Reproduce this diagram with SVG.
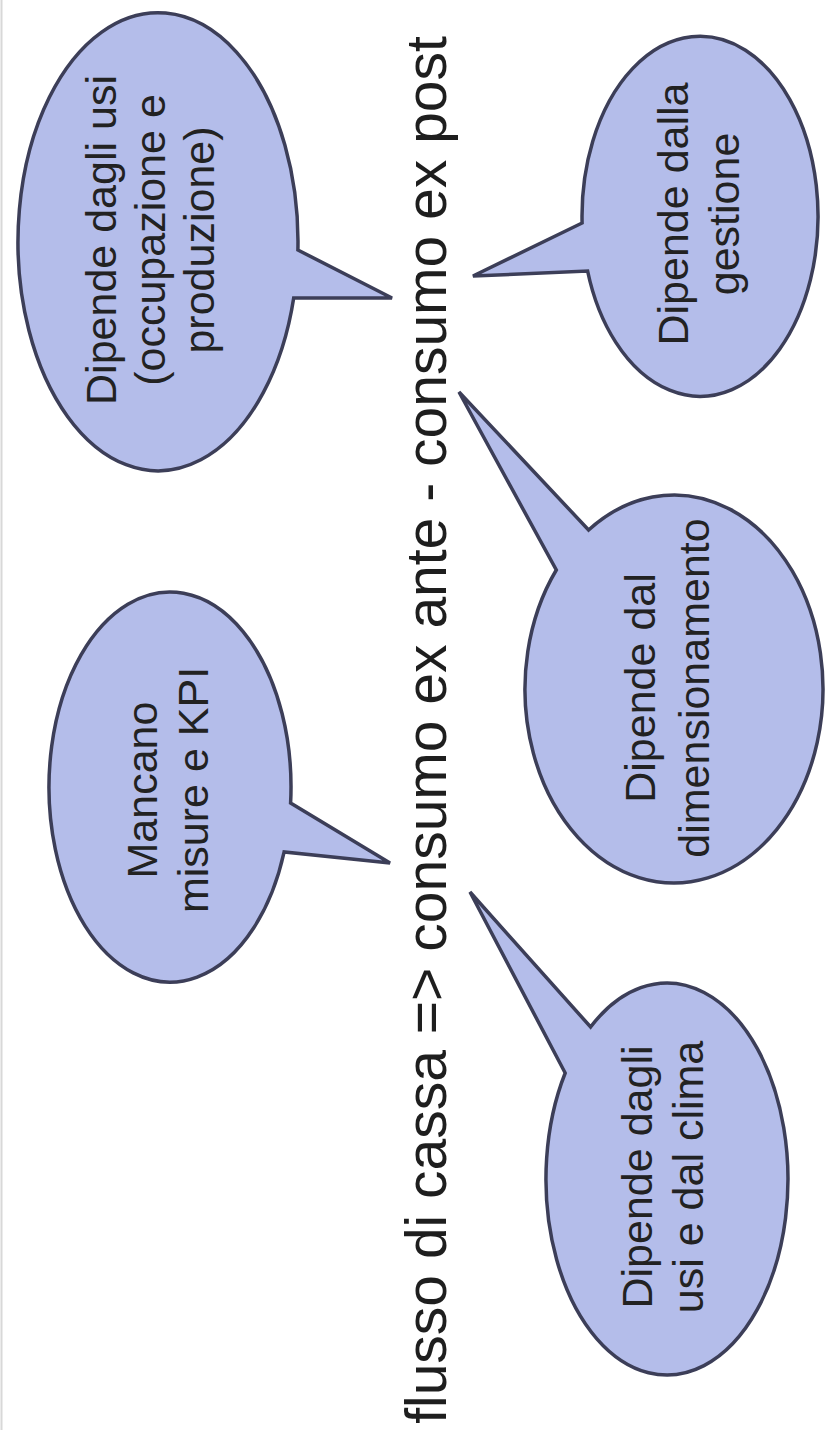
<svg xmlns="http://www.w3.org/2000/svg" width="826" height="1430" viewBox="0 0 826 1430">
<style>
.bub{fill:#b4bdea;stroke:#3c3e58;stroke-width:3.5;stroke-linejoin:miter}
.lbl{font-family:"Liberation Sans",Arial,sans-serif;font-size:43px;fill:#222;text-anchor:middle}
.title{font-family:"Liberation Sans",Arial,sans-serif;font-size:57px;fill:#1e1e1e;text-anchor:middle}
</style>
<rect x="0" y="0" width="826" height="1430" fill="#ffffff"/>
<line x1="1.5" y1="0" x2="1.5" y2="1430" stroke="#d8d8d8" stroke-width="2"/>
<g id="connectors"></g>
<g id="title">
<text class="title" transform="translate(446,730) rotate(-90)" x="0" y="0">flusso di cassa =&gt; consumo ex ante - consumo ex post</text>
</g>
<g id="bubble-usi-occupazione">
<path class="bub" d="M297.9,250 A140,229 0 1 0 293.7,298 L392,298 Z"/>
<text class="lbl" transform="translate(116,240) rotate(-90)"><tspan x="0" y="0">Dipende dagli usi</tspan><tspan x="0" y="49">(occupazione e</tspan><tspan x="0" y="98">produzione)</tspan></text>
</g>
<g id="bubble-gestione">
<path class="bub" d="M582.1,223 A118,180 0 1 1 587.6,271 L473,276 Z"/>
<text class="lbl" transform="translate(688,214) rotate(-90)"><tspan x="0" y="0">Dipende dalla</tspan><tspan x="0" y="51">gestione</tspan></text>
</g>
<g id="bubble-kpi">
<path class="bub" d="M290.6,803 A121,195 0 1 0 284.1,852 L390,863 Z"/>
<text class="lbl" transform="translate(157,790) rotate(-90)"><tspan x="0" y="0">Mancano</tspan><tspan x="0" y="51">misure e KPI</tspan></text>
</g>
<g id="bubble-dimensionamento">
<path class="bub" d="M588.6,530 A149,194 0 1 1 556.3,570 L459,392 Z"/>
<text class="lbl" transform="translate(655,688) rotate(-90)"><tspan x="0" y="0">Dipende dal</tspan><tspan x="0" y="54">dimensionamento</tspan></text>
</g>
<g id="bubble-clima">
<path class="bub" d="M590.6,1027 A121,196 0 1 1 565.2,1073 L470,892 Z"/>
<text class="lbl" transform="translate(652,1177) rotate(-90)"><tspan x="0" y="0">Dipende dagli</tspan><tspan x="0" y="51">usi e dal clima</tspan></text>
</g>
</svg>
